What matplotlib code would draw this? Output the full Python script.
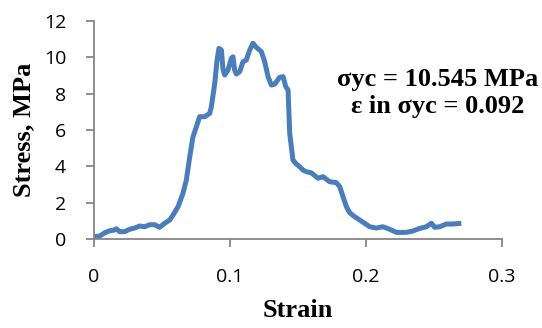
import matplotlib.pyplot as plt

strain = [0.0, 0.0042, 0.0079, 0.0115, 0.0152, 0.0165, 0.0189, 0.0226, 0.0262, 0.0299,
          0.0336, 0.0373, 0.041, 0.0446, 0.0483, 0.052, 0.0557, 0.0581, 0.0618, 0.0654,
          0.0679, 0.0704, 0.0728, 0.0753, 0.0777, 0.0814, 0.0851, 0.0863, 0.0888, 0.0905,
          0.0919, 0.0937, 0.0949, 0.0961, 0.0985, 0.101, 0.1022, 0.1034, 0.1047, 0.1071,
          0.1096, 0.112, 0.1145, 0.1169, 0.1194, 0.1231, 0.1255, 0.128, 0.1304, 0.1329,
          0.1365, 0.139, 0.141, 0.1427, 0.1439, 0.1463, 0.1488, 0.1513, 0.1537, 0.1562,
          0.1598, 0.1647, 0.1684, 0.1733, 0.1782, 0.1807, 0.1831, 0.1856, 0.188, 0.1917,
          0.1954, 0.199, 0.2027, 0.2077, 0.2125, 0.2174, 0.2224, 0.2297, 0.2346, 0.2395,
          0.2444, 0.2481, 0.2505, 0.2542, 0.2591, 0.264, 0.2701]
stress = [0.15, 0.18, 0.36, 0.47, 0.51, 0.58, 0.42, 0.42, 0.55, 0.62,
          0.73, 0.69, 0.80, 0.80, 0.66, 0.88, 1.06, 1.33, 1.79, 2.52,
          3.25, 4.53, 5.63, 6.18, 6.73, 6.73, 6.91, 7.28, 8.56, 9.84,
          10.48, 10.39, 9.29, 9.02, 9.29, 9.93, 10.02, 9.29, 9.07, 9.2,
          9.75, 9.84, 10.39, 10.76, 10.54, 10.3, 9.75, 8.93, 8.47, 8.52,
          8.89, 8.93, 8.38, 8.2, 5.82, 4.35, 4.13, 3.98, 3.8, 3.71,
          3.65, 3.35, 3.44, 3.16, 3.11, 2.89, 2.34, 1.79, 1.46, 1.24,
          1.06, 0.88, 0.69, 0.62, 0.69, 0.55, 0.38, 0.38, 0.46, 0.60,
          0.69, 0.88, 0.66, 0.69, 0.84, 0.84, 0.88]

xticks = [0, 0.1, 0.2, 0.3]
xticklabels = ['0', '0.1', '0.2', '0.3']
yticks = [0, 2, 4, 6, 8, 10, 12]

fig = plt.figure(figsize=(5.42, 3.28), dpi=100)
ax = fig.add_axes([0.1734, 0.2704, 0.7528, 0.6665])

ax.plot(strain, stress, color='#4a7ebb', lw=3.6, solid_capstyle='butt', clip_on=False)

ax.set_xlim(0, 0.3)
ax.set_ylim(0, 12)
ax.set_xticks(xticks)
ax.set_xticklabels(xticklabels)
ax.set_yticks(yticks)

for s in ['top', 'right']:
    ax.spines[s].set_visible(False)
for s in ['left', 'bottom']:
    ax.spines[s].set_color('#868686')
    ax.spines[s].set_linewidth(1.3)
ax.tick_params(direction='out', length=6, width=1.3, color='#868686', labelsize=14)
ax.tick_params(axis='x', pad=15)
ax.tick_params(axis='y', pad=14)
for lab in ax.get_xticklabels() + ax.get_yticklabels():
    lab.set_fontfamily('Open Sans')

serif = 'Liberation Serif'
ax.set_xlabel('Strain', fontfamily=serif, fontweight='bold', fontsize=19, labelpad=9)
ax.set_ylabel('Stress, MPa', fontfamily=serif, fontweight='bold', fontsize=19, labelpad=6)

ax.text(0.2527, 8.03, 'σyc = 10.545 MPa\nε in σyc = 0.092', ha='center', va='center',
        fontfamily=serif, fontweight='bold', fontsize=19, linespacing=1.2)

fig.savefig('out.png', dpi=100)
